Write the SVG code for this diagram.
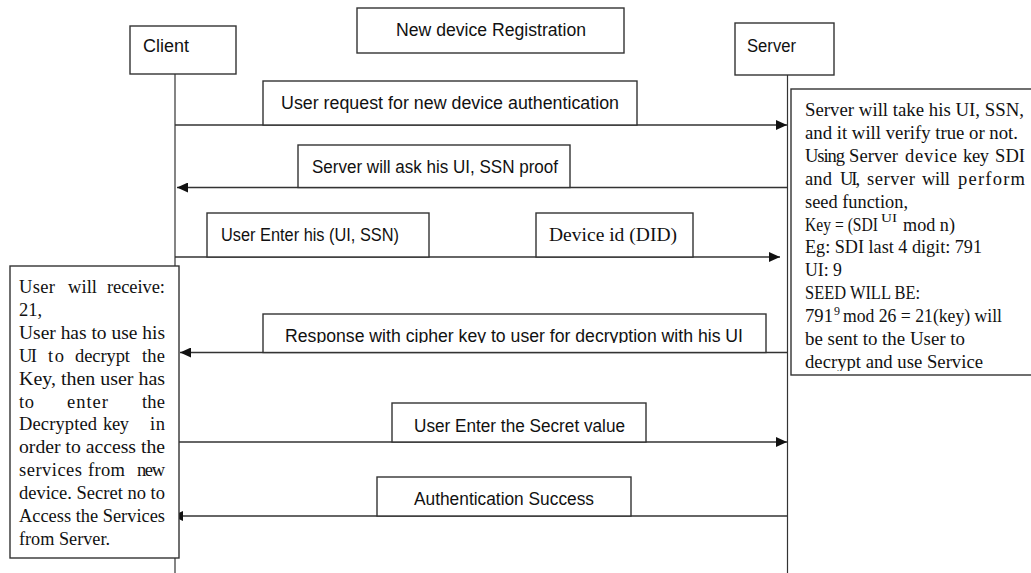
<svg xmlns="http://www.w3.org/2000/svg" width="1031" height="573" viewBox="0 0 1031 573">
<style>
.box{fill:#fff;stroke:#333;stroke-width:1.4}
.life{stroke:#333;stroke-width:1.2;fill:none}
.msg{stroke:#333;stroke-width:1.6;fill:none;marker-end:url(#ah)}
.sans{font-family:"Liberation Sans",Arial,sans-serif;font-size:17.5px;fill:#111}
.serif{font-family:"Liberation Serif","Times New Roman",serif;font-size:18.5px;fill:#111}
.sup{font-family:"Liberation Serif","Times New Roman",serif;font-size:12px;fill:#111}
</style>
<defs>
<marker id="ah" markerWidth="11" markerHeight="10" refX="11" refY="5" orient="auto" markerUnits="userSpaceOnUse">
<path d="M0,0 L11,5 L0,10 z" fill="#111"/>
</marker>
<clipPath id="clipResp"><rect x="263" y="314" width="503" height="29"/></clipPath>
<clipPath id="clipNote"><rect x="791" y="89" width="240" height="282"/></clipPath>
</defs>
<rect width="1031" height="573" fill="#fff"/>

<g id="connectors">
<line class="life" x1="175" y1="74" x2="175" y2="573"/>
<line class="life" x1="787.5" y1="75" x2="787.5" y2="573"/>
<line class="msg" x1="175" y1="125" x2="787" y2="125"/>
<line class="msg" x1="787" y1="187.5" x2="177" y2="187.5"/>
<line class="msg" x1="175" y1="257" x2="780" y2="257"/>
<line class="msg" x1="787" y1="352.5" x2="180" y2="352.5"/>
<line class="msg" x1="175" y1="442" x2="787" y2="442"/>
<line class="msg" x1="787" y1="516" x2="172" y2="516"/>
</g>

<g id="title">
<rect class="box" x="357" y="8" width="267" height="45"/>
<text class="sans" x="396" y="36" textLength="190" lengthAdjust="spacingAndGlyphs">New device Registration</text>
</g>

<g id="client">
<rect class="box" x="130" y="26" width="106" height="48"/>
<text class="sans" x="143" y="52" textLength="46" lengthAdjust="spacingAndGlyphs">Client</text>
</g>

<g id="server">
<rect class="box" x="735" y="23" width="99" height="52"/>
<text class="sans" x="747" y="52" textLength="49" lengthAdjust="spacingAndGlyphs">Server</text>
</g>

<g id="label-request">
<rect class="box" x="263" y="81" width="374" height="44"/>
<text class="sans" x="281" y="109" textLength="338" lengthAdjust="spacingAndGlyphs">User request for new device authentication</text>
</g>

<g id="label-ask">
<rect class="box" x="298" y="145" width="272" height="42.5"/>
<text class="sans" x="312" y="173" textLength="246" lengthAdjust="spacingAndGlyphs">Server will ask his UI, SSN proof</text>
</g>

<g id="label-enter">
<rect class="box" x="207" y="213" width="222" height="44"/>
<text class="sans" x="221" y="241" textLength="178" lengthAdjust="spacingAndGlyphs">User Enter his (UI, SSN)</text>
</g>

<g id="label-did">
<rect class="box" x="536" y="213" width="157" height="44"/>
<text class="serif" x="549" y="241" textLength="128" lengthAdjust="spacingAndGlyphs">Device id (DID)</text>
</g>

<g id="label-response">
<rect class="box" x="263" y="314" width="503" height="38.5"/>
<text class="sans" x="285" y="342" textLength="458" lengthAdjust="spacingAndGlyphs" clip-path="url(#clipResp)">Response with cipher key to user for decryption with his UI</text>
</g>

<g id="label-secret">
<rect class="box" x="392" y="403" width="254" height="39"/>
<text class="sans" x="414" y="432" textLength="211" lengthAdjust="spacingAndGlyphs">User Enter the Secret value</text>
</g>

<g id="label-success">
<rect class="box" x="377" y="477" width="254" height="39"/>
<text class="sans" x="414" y="505" textLength="180" lengthAdjust="spacingAndGlyphs">Authentication Success</text>
</g>

<g id="server-note">
<rect class="box" x="791" y="89" width="245" height="286"/>
<g clip-path="url(#clipNote)">
<text class="serif" x="805" y="116" textLength="219" lengthAdjust="spacingAndGlyphs">Server will take his UI, SSN,</text>
<text class="serif" x="805" y="138.9" textLength="213" lengthAdjust="spacingAndGlyphs">and it will verify true or not.</text>
<text class="serif" x="805" y="161.8" textLength="40" lengthAdjust="spacing">Using</text>
<text class="serif" x="849" y="161.8" textLength="49" lengthAdjust="spacing">Server</text>
<text class="serif" x="905" y="161.8" textLength="52" lengthAdjust="spacing">device</text>
<text class="serif" x="963" y="161.8" textLength="26" lengthAdjust="spacing">key</text>
<text class="serif" x="995" y="161.8" textLength="30" lengthAdjust="spacing">SDI</text>
<text class="serif" x="805" y="184.7" textLength="27" lengthAdjust="spacing">and</text>
<text class="serif" x="840" y="184.7" textLength="20" lengthAdjust="spacing">UI,</text>
<text class="serif" x="867" y="184.7" textLength="48" lengthAdjust="spacing">server</text>
<text class="serif" x="922" y="184.7" textLength="28" lengthAdjust="spacing">will</text>
<text class="serif" x="958" y="184.7" textLength="67" lengthAdjust="spacing">perform</text>
<text class="serif" x="805" y="207.6" textLength="103" lengthAdjust="spacingAndGlyphs">seed function,</text>
<text class="serif" x="805" y="230.5" textLength="73" lengthAdjust="spacingAndGlyphs">Key = (SDI</text>
<text class="sup" x="881" y="222" textLength="16" lengthAdjust="spacingAndGlyphs">UI</text>
<text class="serif" x="903" y="230.5" textLength="52" lengthAdjust="spacingAndGlyphs">mod n)</text>
<text class="serif" x="805" y="253.4" textLength="177" lengthAdjust="spacingAndGlyphs">Eg: SDI last 4 digit: 791</text>
<text class="serif" x="805" y="276.3" textLength="37" lengthAdjust="spacingAndGlyphs">UI: 9</text>
<text class="serif" x="805" y="299.2" textLength="115" lengthAdjust="spacingAndGlyphs">SEED WILL BE:</text>
<text class="serif" x="805" y="322.1" textLength="28" lengthAdjust="spacingAndGlyphs">791</text>
<text class="sup" x="834" y="315">9</text>
<text class="serif" x="843" y="322.1" textLength="159" lengthAdjust="spacingAndGlyphs">mod 26 = 21(key) will</text>
<text class="serif" x="805" y="345" textLength="160" lengthAdjust="spacingAndGlyphs">be sent to the User to</text>
<text class="serif" x="805" y="367.9" textLength="178" lengthAdjust="spacingAndGlyphs">decrypt and use Service</text>
</g>
</g>

<g id="client-note">
<rect class="box" x="10" y="266" width="169" height="292"/>
<text class="serif" x="19" y="293" textLength="36" lengthAdjust="spacing">User</text>
<text class="serif" x="68" y="293" textLength="29" lengthAdjust="spacing">will</text>
<text class="serif" x="107" y="293" textLength="58" lengthAdjust="spacing">receive:</text>
<text class="serif" x="19" y="315.9">21,</text>
<text class="serif" x="19" y="338.8" textLength="146" lengthAdjust="spacingAndGlyphs">User has to use his</text>
<text class="serif" x="19" y="361.7" textLength="18" lengthAdjust="spacing">UI</text>
<text class="serif" x="48" y="361.7" textLength="16" lengthAdjust="spacing">to</text>
<text class="serif" x="75" y="361.7" textLength="55" lengthAdjust="spacing">decrypt</text>
<text class="serif" x="142" y="361.7" textLength="23" lengthAdjust="spacing">the</text>
<text class="serif" x="19" y="384.6" textLength="146" lengthAdjust="spacingAndGlyphs">Key, then user has</text>
<text class="serif" x="19" y="407.5" textLength="15" lengthAdjust="spacing">to</text>
<text class="serif" x="67" y="407.5" textLength="41" lengthAdjust="spacing">enter</text>
<text class="serif" x="142" y="407.5" textLength="23" lengthAdjust="spacing">the</text>
<text class="serif" x="19" y="430.4" textLength="78" lengthAdjust="spacing">Decrypted</text>
<text class="serif" x="103" y="430.4" textLength="26" lengthAdjust="spacing">key</text>
<text class="serif" x="150" y="430.4" textLength="15" lengthAdjust="spacing">in</text>
<text class="serif" x="19" y="453.3" textLength="146" lengthAdjust="spacingAndGlyphs">order to access the</text>
<text class="serif" x="19" y="476.2" textLength="63" lengthAdjust="spacing">services</text>
<text class="serif" x="88" y="476.2" textLength="37" lengthAdjust="spacing">from</text>
<text class="serif" x="137" y="476.2" textLength="28" lengthAdjust="spacing">new</text>
<text class="serif" x="19" y="499.1" textLength="146" lengthAdjust="spacingAndGlyphs">device. Secret no to</text>
<text class="serif" x="19" y="522" textLength="146" lengthAdjust="spacingAndGlyphs">Access the Services</text>
<text class="serif" x="19" y="544.9" textLength="91" lengthAdjust="spacingAndGlyphs">from Server.</text>
</g>
</svg>
